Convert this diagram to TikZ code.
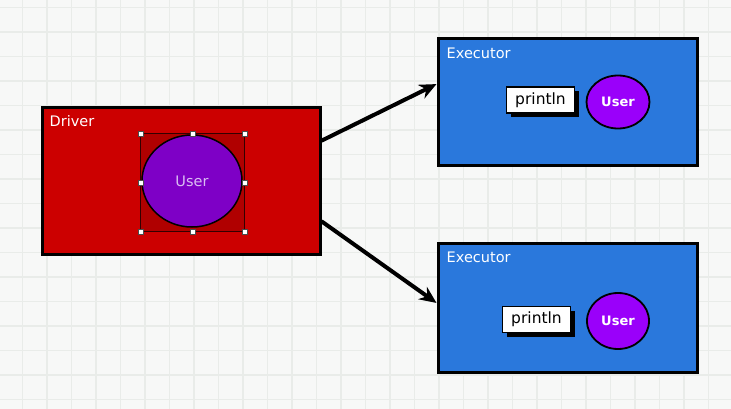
\documentclass[tikz,border=0pt]{standalone}
\usepackage{fontspec}
\setmainfont{DejaVu Sans}
\usepackage{xcolor}
\usetikzlibrary{arrows.meta, positioning, shapes.geometric, shadows}

\definecolor{paper}{HTML}{F7F8F7}
\definecolor{gridline}{HTML}{E9ECE9}
\definecolor{driverred}{HTML}{CC0000}
\definecolor{selred}{HTML}{B00000}
\definecolor{userdark}{HTML}{7E00C6}
\definecolor{userlight}{HTML}{9A00FA}
\definecolor{execblue}{HTML}{2A78DC}
\definecolor{usertext}{HTML}{D9BDF2}

\tikzset{
  box/.style={draw=black, line width=3pt, inner sep=0pt},
  boxtitle/.style={anchor=north west, inner sep=0pt, text=white, font=\fontsize{14.5}{16}\selectfont},
  callbox/.style={draw=black, line width=1.5pt, fill=white, inner sep=0pt,
    minimum width=68pt, minimum height=26pt, font=\fontsize{15.5}{17}\selectfont,
    drop shadow={shadow xshift=4pt, shadow yshift=-4pt, fill=black, opacity=1}},
  userball/.style={ellipse, draw=black, line width=1.8pt, fill=userlight, inner sep=0pt,
    text=white, font=\bfseries\fontsize{13}{15}\selectfont},
  handle/.style={draw=black!70, line width=0.6pt, fill=white, inner sep=0pt, minimum size=5pt},
  link/.style={line width=4pt, -{Stealth[length=17pt, width=15pt]}}
}

\begin{document}
\begin{tikzpicture}[x=1pt, y=-1pt]
    \fill[paper] (0,0) rectangle (731,409);
    \useasboundingbox (0,0) rectangle (731,409);
    % background grid
    \foreach \i in {0,...,29}
      \draw[gridline, line width=1.5pt] (22.7+24.5*\i,0) -- ++(0,409);
    \foreach \j in {0,...,16}
      \draw[gridline, line width=1.5pt] (0,7.3+24.5*\j) -- ++(731,0);

    % driver
    \node[box, fill=driverred, minimum width=278pt, minimum height=146pt] (driver) at (181,181) {};
    \node[boxtitle] (drivertitle) at ([shift={(9,9)}]driver.north west) {Driver};
    \node[draw=black!80!red, line width=0.8pt, fill=selred, minimum width=104pt, minimum height=97pt,
      inner sep=0pt] (sel) at (192.7,182.4) {};
    \node[ellipse, draw=black, line width=1.5pt, fill=userdark, minimum width=100pt, minimum height=92pt,
      inner sep=0pt, text=usertext, font=\fontsize{14.5}{16}\selectfont] (duser) at (192,181) {User};
    \foreach \a [count=\i] in {north west, north, north east, east, south east, south, south west, west}
      \node[handle] (h\i) at (sel.\a) {};

    % executors
    \node[box, fill=execblue, minimum width=259pt, minimum height=127pt] (execA) at (567.5,102.5) {};
    \node[boxtitle] (titleA) at ([shift={(10,10)}]execA.north west) {Executor};
    \node[callbox] (printA) at (540.5,100) {println};
    \node[userball, minimum width=63pt, minimum height=53pt] (userA) at (618,102) {User};

    \node[box, fill=execblue, minimum width=259pt, minimum height=129pt] (execB) at (567.5,307.5) {};
    \node[boxtitle] (titleB) at ([shift={(10,10)}]execB.north west) {Executor};
    \node[callbox] (printB) at (536.5,319.5) {println};
    \node[userball, minimum width=62pt, minimum height=56pt] (userB) at (618,321) {User};

    % links
    \draw[link] (driver.16) -- (execA.172);
    \draw[link] (driver.-16) -- (execB.178);
  \end{tikzpicture}
\end{document}
